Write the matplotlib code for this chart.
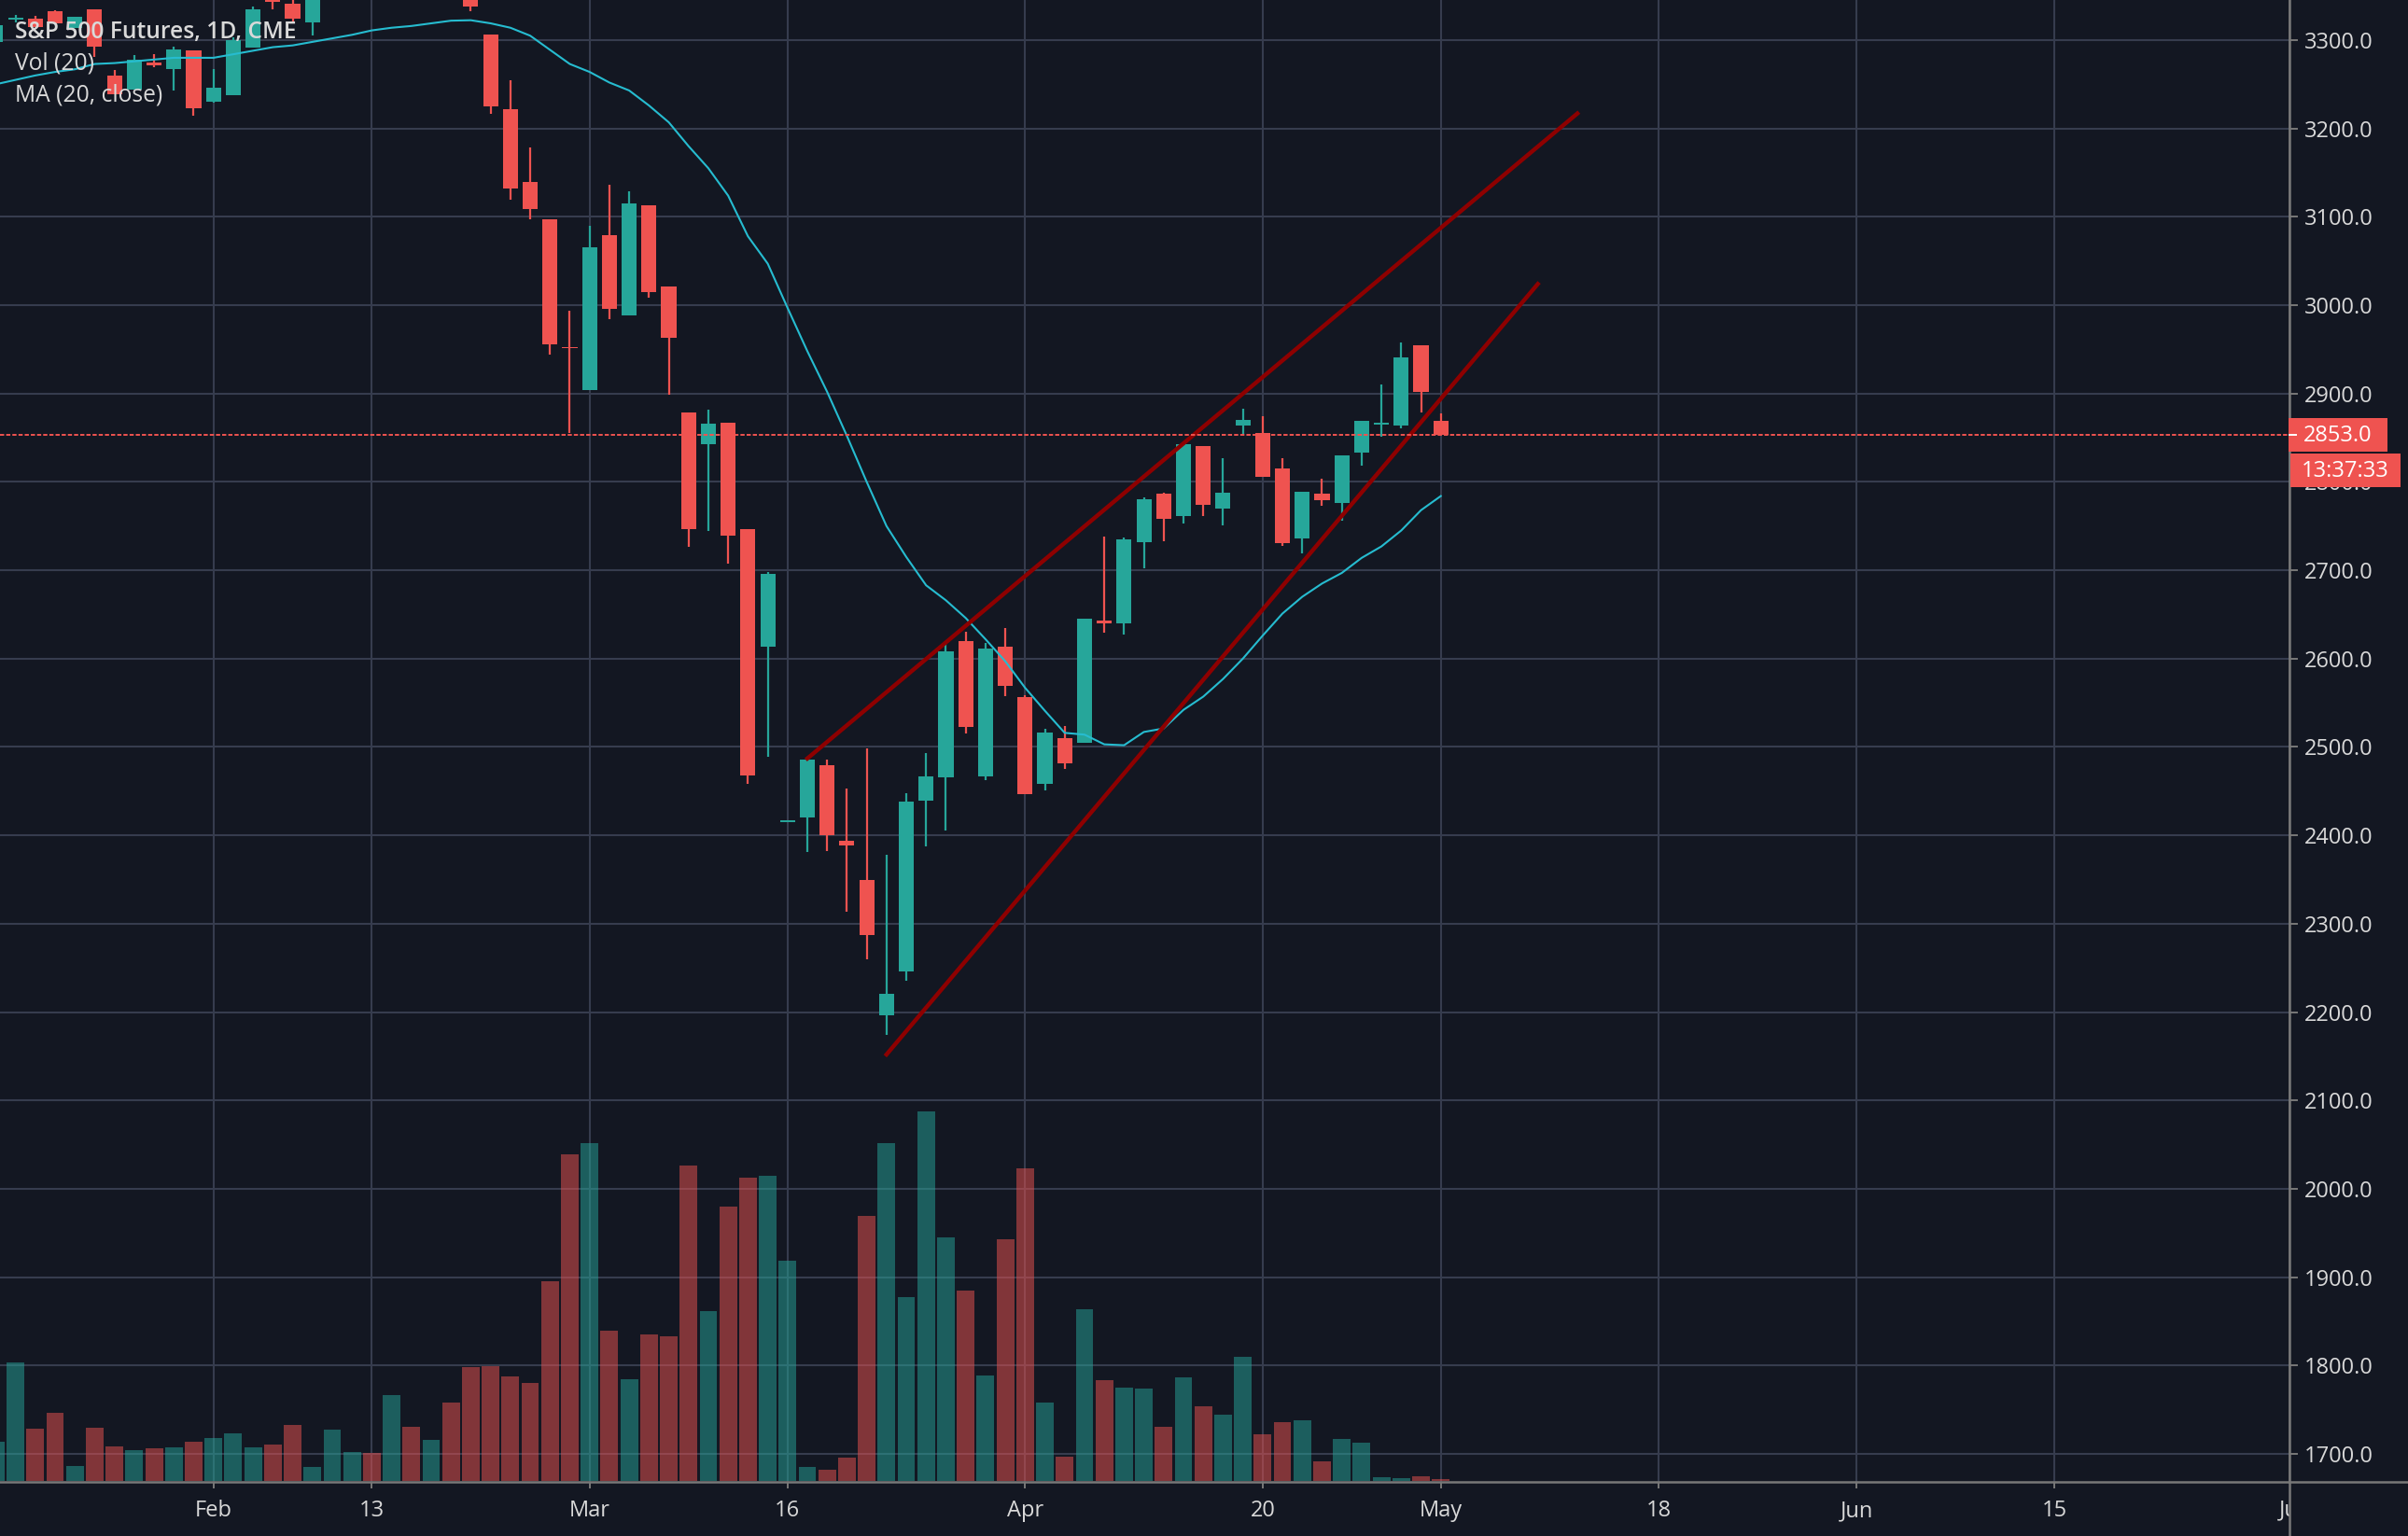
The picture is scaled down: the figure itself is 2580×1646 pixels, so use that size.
import numpy as np
import matplotlib
matplotlib.use("Agg")
import matplotlib.pyplot as plt
from matplotlib.patches import Rectangle

# daily bars, index 0 = first full candle; -1 is the one cut off by the left edge
nan = float("nan")
first_idx = -1

opens = [3298, 3323, 3324, 3333, 3314, 3335, 3260, 3244, 3275, 3267, 3288, 3230, 3238, 3292, 3350, 3341, 3320,
         nan, nan, nan, nan, nan, nan, nan, 3350, 3306, 3222, 3139, 3097, 2953, 2904, 3079, 2988, 3113, 3021,
         2879, 2843, 2867, 2747, 2614, 2415, 2420, 2479, 2394, 2349, 2196, 2246, 2439, 2466, 2620, 2467, 2613,
         2557, 2458, 2510, 2505, 2643, 2640, 2732, 2787, 2761, 2841, 2770, 2864, 2855, 2815, 2736, 2787, 2776,
         2833, 2865, 2864, 2955, 2869]
highs = [3320, 3328, 3327, 3334, 3326, 3335, 3266, 3283, 3284, 3293, 3288, 3267, 3303, 3338, 3350, 3345, 3350,
         nan, nan, nan, nan, nan, nan, nan, 3350, 3306, 3255, 3179, 3097, 2994, 3090, 3136, 3129, 3113, 3021,
         2879, 2882, 2867, 2747, 2698, 2417, 2489, 2486, 2453, 2498, 2378, 2448, 2493, 2619, 2630, 2618, 2635,
         2559, 2521, 2524, 2645, 2738, 2737, 2782, 2788, 2843, 2841, 2827, 2883, 2874, 2827, 2789, 2804, 2830,
         2869, 2910, 2958, 2955, 2878]
lows = [3296, 3320, 3315, 3319, 3314, 3281, 3239, 3244, 3269, 3243, 3214, 3229, 3238, 3292, 3335, 3320, 3305,
        nan, nan, nan, nan, nan, nan, nan, 3333, 3217, 3119, 3097, 2944, 2855, 2904, 2984, 2988, 3009, 2899,
        2727, 2745, 2708, 2458, 2489, 2415, 2381, 2382, 2314, 2260, 2174, 2235, 2387, 2405, 2515, 2463, 2558,
        2447, 2451, 2475, 2505, 2629, 2627, 2702, 2733, 2753, 2761, 2751, 2853, 2806, 2728, 2719, 2773, 2756,
        2818, 2851, 2861, 2879, 2853]
closes = [3317, 3325, 3315, 3319, 3326, 3293, 3239, 3278, 3272, 3289, 3223, 3246, 3300, 3335, 3343, 3324, 3350,
          nan, nan, nan, nan, nan, nan, nan, 3338, 3225, 3132, 3109, 2956, 2951, 3066, 2996, 3115, 3015, 2963,
          2747, 2866, 2739, 2468, 2696, 2417, 2486, 2400, 2389, 2287, 2221, 2438, 2467, 2608, 2523, 2611, 2569,
          2447, 2516, 2482, 2645, 2640, 2735, 2780, 2758, 2843, 2774, 2788, 2870, 2806, 2731, 2789, 2779, 2830,
          2869, 2867, 2941, 2902, 2853]

ma20 = [3250, 3255, 3260, 3264, 3267, 3273, 3274, 3276, 3278, 3280, 3280, 3280, 3284, 3288, 3292, 3294, 3298,
        3302, 3306, 3311, 3314, 3316, 3319, 3322, 3322.5, 3319, 3314, 3305, 3289, 3273, 3264, 3252, 3243, 3226,
        3207, 3180, 3155, 3124, 3078, 3047, 2997, 2948, 2902, 2852, 2800, 2750, 2715, 2683, 2666, 2646, 2622,
        2597, 2567, 2541, 2516, 2514, 2503, 2502, 2517, 2521, 2542, 2557, 2577, 2600, 2626, 2651, 2670, 2685,
        2697, 2714, 2727, 2745, 2768, 2784]

# volume read as bar height, only the shape matters since its scale is hidden
volumes = [127, 382, 169, 220, 49, 172, 112, 100, 106, 109, 127, 139, 154, 109, 118, 181, 46, 166, 94, 91, 277,
           175, 133, 253, 367, 370, 337, 316, 643, 1051, 1087, 484, 328, 472, 466, 1015, 547, 883, 976, 982, 709,
           46, 37, 76, 853, 1087, 592, 1189, 784, 613, 340, 778, 1006, 253, 79, 553, 325, 301, 298, 175, 334, 241,
           214, 400, 151, 190, 196, 64, 136, 124, 13, 10, 16, 7]
volume_up = [1, 1, 0, 0, 1, 0, 0, 1, 0, 1, 0, 1, 1, 1, 0, 0, 1, 1, 1, 0, 1, 0, 1, 0, 0, 0, 0, 0, 0, 0, 1, 0, 1,
             0, 0, 0, 1, 0, 0, 1, 1, 1, 0, 0, 0, 1, 1, 1, 1, 0, 1, 0, 0, 1, 0, 1, 0, 1, 1, 0, 1, 0, 1, 1, 0, 0, 1,
             0, 1, 1, 1, 1, 0, 0]

# upper and lower channel lines, (bar, price) at both ends
upper_line = ([40, 78.9], [2487, 3217])
lower_line = ([44, 76.9], [2152, 3024])

last_price = 2853
price_ticks = list(range(1700, 3301, 100))
date_ticks = [10, 18, 29, 39, 51, 63, 72, 83, 93, 103]
date_labels = ["Feb", "13", "Mar", "16", "Apr", "20", "May", "18", "Jun", "15"]
cut_tick, cut_label = 115, "Jul"

BG = "#131722"
GRID = "#363c4e"
UP = "#26a69a"
DOWN = "#ef5350"
BORDER = "#787878"
TEXT = "#d9d9d9"
FONT = ["Open Sans", "DejaVu Sans"]

W, H = 2580, 1646
plot_w, plot_h = 2453, 1588
bar_px, first_px = 21.21, 16.6
ymin, ymax = 1668.3, 3345.4
plt.rcParams["font.family"] = FONT

fig = plt.figure(figsize=(W / 100, H / 100), dpi=100, facecolor=BG)
ax = fig.add_axes([0, (H - plot_h) / H, plot_w / W, plot_h / H], facecolor=BG)

idx = np.arange(len(opens)) + first_idx

# grid
ax.set_xticks(date_ticks)
ax.set_xticklabels(date_labels)
ax.set_yticks(price_ticks)
ax.set_yticklabels([])
ax.set_xlim(-first_px / bar_px, (plot_w - first_px) / bar_px)
ax.set_ylim(ymin, ymax)
ax.grid(True, color=GRID, linewidth=1.5)
ax.set_axisbelow(True)
ax.tick_params(axis="x", colors=BORDER, labelcolor=TEXT, labelsize=17, length=5, width=1.4, pad=9)
ax.tick_params(axis="y", length=0)
for name, spine in ax.spines.items():
    spine.set_visible(name in ("right", "bottom"))
    spine.set_color(BORDER)
    spine.set_linewidth(1.8)

# volume on its own hidden scale
vol_ax = ax.twinx()
vol_ax.set_ylim(-3, plot_h * 3)
vol_ax.set_yticks([])
vol_ax.patch.set_visible(False)
for spine in vol_ax.spines.values():
    spine.set_visible(False)
vol_colors = [UP if up else DOWN for up in volume_up]
vol_ax.bar(idx, volumes, width=0.89, color=vol_colors, alpha=0.5, linewidth=0)

# candles above the volume and grid
price_ax = ax.twinx()
price_ax.set_ylim(ymin, ymax)
price_ax.set_yticks([])
price_ax.patch.set_visible(False)
for spine in price_ax.spines.values():
    spine.set_visible(False)

o, hi, lo, c = map(np.array, (opens, highs, lows, closes))
colors = [UP if b >= a else DOWN for a, b in zip(opens, closes)]
price_ax.vlines(idx, lo, hi, colors=colors, linewidth=1.6, zorder=3)
price_ax.bar(idx, np.maximum(np.abs(c - o), 2), bottom=np.minimum(o, c), width=0.76,
             color=colors, linewidth=0, zorder=4)
price_ax.plot(idx, ma20, color="#26bcd0", linewidth=1.5, zorder=5)
price_ax.plot(*upper_line, color="#8e0000", linewidth=3.2, zorder=6)
price_ax.plot(*lower_line, color="#8e0000", linewidth=3.2, zorder=6)
price_ax.axhline(last_price, color=DOWN, linewidth=1.4, dashes=(2.3, 1.1), zorder=6)

# legend text, top left
for y, txt, weight in [(34, "S&P 500 Futures, 1D, CME", "semibold"), (68, "Vol (20)", "normal"),
                       (102, "MA (20, close)", "normal")]:
    fig.text(16 / W, 1 - y / H, txt, color=TEXT, fontsize=17.7, fontweight=weight, va="center", ha="left", zorder=10)

# this date label sits across the price scale and only its first letter shows
fig.text((first_px + cut_tick * bar_px) / W, 1 - 1618 / H, cut_label, color=TEXT, fontsize=17, va="center",
         ha="center", zorder=7)

# price scale
fig.add_artist(Rectangle((plot_w / W, 0), 1, 1, transform=fig.transFigure, color=BG, linewidth=0, zorder=8))
fig.add_artist(plt.Line2D([plot_w / W] * 2, [0, 1], color=BORDER, linewidth=1.8, zorder=9))
fig.add_artist(plt.Line2D([plot_w / W, 1], [(H - plot_h) / H] * 2, color=BORDER, linewidth=1.8, zorder=9))
for p in price_ticks:
    y = (H - plot_h) / H + (p - ymin) / (ymax - ymin) * plot_h / H
    fig.text(2469 / W, y - 3 / H, f"{p:.1f}", color=TEXT, fontsize=17, va="center", ha="left", zorder=9)
    fig.add_artist(plt.Line2D([plot_w / W, (plot_w + 8) / W], [y, y], color=BORDER, linewidth=1.4, zorder=9))

# last price and countdown tags
def tag(x0, x1, y0, y1, txt):
    fig.add_artist(Rectangle((x0 / W, 1 - y1 / H), (x1 - x0) / W, (y1 - y0) / H, transform=fig.transFigure,
                             color=DOWN, linewidth=0, zorder=10))
    fig.text((x0 + x1) / 2 / W, 1 - ((y0 + y1) / 2 + 1) / H, txt, color="white", fontsize=17, va="center",
             ha="center", zorder=11)

tag(2452, 2558, 448, 484, "2853.0")
tag(2454, 2572, 486, 522, "13:37:33")
fig.add_artist(plt.Line2D([plot_w / W, (plot_w + 7) / W], [1 - 466 / H] * 2, color="white", linewidth=1.4, zorder=11))

fig.savefig("out.png", dpi=100, facecolor=BG)
